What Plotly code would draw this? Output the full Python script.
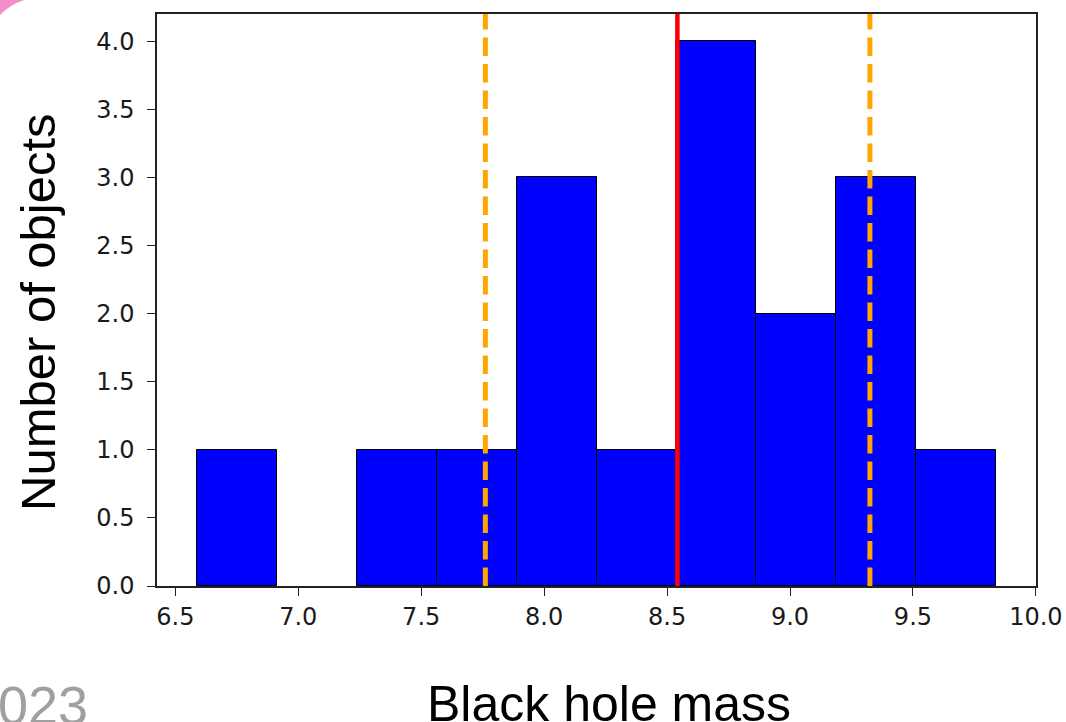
import plotly.graph_objects as go

# Histogram of black hole masses (log M) with mean and +/- 1 sigma markers
bin_edges = [6.588, 6.913, 7.238, 7.563, 7.888, 8.213, 8.538, 8.863, 9.188, 9.513, 9.838]
counts = [1, 0, 1, 1, 3, 1, 4, 2, 3, 1]
mean_mass = 8.542
lower_sigma = 7.761
upper_sigma = 9.325

x_ticks = [6.5, 7.0, 7.5, 8.0, 8.5, 9.0, 9.5, 10.0]
y_ticks = [0.0, 0.5, 1.0, 1.5, 2.0, 2.5, 3.0, 3.5, 4.0]

W, H = 1066, 722
ML, MR, MT, MB = 157, 30, 14, 136
PW, PH = W - ML - MR, H - MT - MB


def px(x):
    return (x - ML) / PW


def py(y):
    return (H - MB - y) / PH


centers = [(a + b) / 2 for a, b in zip(bin_edges[:-1], bin_edges[1:])]
widths = [b - a for a, b in zip(bin_edges[:-1], bin_edges[1:])]
edge_widths = [1 if c > 0 else 0 for c in counts]

fig = go.Figure()
fig.add_trace(go.Bar(
    x=centers, y=counts, width=widths,
    marker=dict(color="#0000ff", line=dict(color="#000000", width=edge_widths)),
    showlegend=False, hoverinfo="skip",
))

# Mean (solid red) and +/- sigma (dashed orange) vertical lines
fig.add_shape(type="line", xref="x", yref="y domain", x0=mean_mass, x1=mean_mass, y0=0, y1=1,
              line=dict(color="#ff0000", width=4.5))
for v in (lower_sigma, upper_sigma):
    fig.add_shape(type="line", xref="x", yref="y domain", x0=v, x1=v, y0=0, y1=1,
                  line=dict(color="#ffa500", width=5, dash="18.5px,8px"))

# Pink decoration in the top-left corner
fig.add_shape(type="path", xref="paper", yref="paper",
              path=f"M {px(0)},{py(0)} L {px(24)},{py(0)} Q {px(9)},{py(5)} {px(0)},{py(15)} Z",
              fillcolor="#f48cc8", line=dict(width=0), layer="above")

axis_common = dict(
    showline=True, linecolor="#222222", linewidth=1.5, mirror=True,
    ticks="outside", ticklen=8, tickwidth=1.4, tickcolor="#222222",
    showgrid=False, zeroline=False,
    tickfont=dict(family="DejaVu Sans", size=24, color="#1a1a1a"),
)

fig.update_layout(
    width=W, height=H,
    margin=dict(l=ML, r=MR, t=MT, b=MB, autoexpand=False),
    plot_bgcolor="white", paper_bgcolor="white",
    bargap=0,
    xaxis=dict(range=[6.4255, 10.0005], tickvals=x_ticks,
               ticktext=[f"{t:.1f}" for t in x_ticks], ticklabelstandoff=0, **axis_common),
    yaxis=dict(range=[0, 4.2], tickvals=y_ticks,
               ticktext=[f"{t:.1f}" for t in y_ticks], ticklabelstandoff=8, **axis_common),
    annotations=[
        dict(text="Black hole mass", xref="paper", yref="paper", x=px(609), y=py(704),
             xanchor="center", yanchor="middle", showarrow=False,
             font=dict(family="Liberation Sans", size=50, color="#000000")),
        dict(text="Number of objects", xref="paper", yref="paper", x=px(38), y=py(312),
             xanchor="center", yanchor="middle", textangle=-90, showarrow=False,
             font=dict(family="Liberation Sans", size=49, color="#000000")),
        dict(text="2023", xref="paper", yref="paper", x=px(90), y=py(705),
             xanchor="right", yanchor="middle", showarrow=False,
             font=dict(family="Liberation Sans", size=54, color="#a0a0a0")),
    ],
)

fig.write_html("out.html")
